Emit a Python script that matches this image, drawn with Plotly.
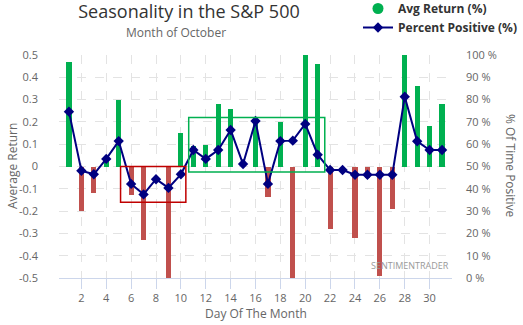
import plotly.graph_objects as go

# Day of month (October) and the per-day statistics
days = list(range(1, 32))
avg_return = [0.47, -0.20, -0.12, 0.03, 0.30, -0.13, -0.33, 0.0, -0.50, 0.15,
              0.09, 0.095, 0.28, 0.26, 0.0, 0.21, -0.135, 0.20, -0.50, 0.50,
              0.46, -0.28, 0.0, -0.32, -0.05, -0.49, -0.19, 0.50, 0.36, 0.18, 0.28]
pct_positive = [74.6, 48.1, 46.5, 53.4, 61.4, 42.2, 37.5, 44.3, 40.4, 46.5,
                57.4, 53.4, 57.4, 66.4, 51.1, 70.4, 42.2, 61.4, 61.6, 69.1,
                55.3, 48.4, 48.4, 46.3, 46.3, 46.3, 46.3, 81.3, 61.3, 57.4, 57.4]

x_ticks = list(range(2, 31, 2))
left_ticks = [0.5, 0.4, 0.3, 0.2, 0.1, 0, -0.1, -0.2, -0.3, -0.4, -0.5]
left_labels = ["0.5", "0.4", "0.3", "0.2", "0.1", "0", "-0.1", "-0.2", "-0.3", "-0.4", "-0.5"]
right_ticks = list(range(0, 101, 10))
right_labels = [f"{v} %" for v in right_ticks]

GREEN = "#00B050"
RED = "#C0504D"
NAVY = "#000080"
GRID = "#e3e3e3"
AXIS = "#ccd6eb"
LABEL = "#666666"
FONT = "Open Sans"

bar_colors = [GREEN if v >= 0 else RED for v in avg_return]

fig = go.Figure()

fig.add_trace(go.Bar(
    x=days, y=avg_return, width=0.42,
    marker=dict(color=bar_colors, line=dict(width=0)),
    showlegend=False, yaxis="y",
))

# legend entry for the bars (circle symbol)
fig.add_trace(go.Scatter(
    x=[None], y=[None], mode="markers", name="Avg Return (%)",
    marker=dict(color=GREEN, size=11, symbol="circle"),
))

fig.add_trace(go.Scatter(
    x=days, y=pct_positive, mode="lines+markers", name="Percent Positive (%)",
    line=dict(color=NAVY, width=2),
    marker=dict(color=NAVY, size=8, symbol="diamond"),
    yaxis="y2",
))

# highlight boxes
fig.add_shape(type="rect", xref="x", yref="y", x0=5.15, x1=10.4, y0=-0.16, y1=0.0,
              line=dict(color="#C00000", width=1.5), fillcolor="rgba(0,0,0,0)", layer="above")
fig.add_shape(type="rect", xref="x", yref="y", x0=10.63, x1=21.57, y0=-0.025, y1=0.22,
              line=dict(color="#00B050", width=1.5), fillcolor="rgba(0,0,0,0)", layer="above")

W, H = 523, 325
ML, MR, MT, MB = 59, 71, 55, 47
pw = W - ML - MR
ph = H - MT - MB


def px(x):
    return (x - ML) / pw


def py(y):
    return (H - MB - y) / ph


def label(text, x, y, size=12, color=LABEL, angle=0, xanchor="center"):
    return dict(text=text, x=px(x), y=py(y), xref="paper", yref="paper",
                xanchor=xanchor, yanchor="middle", showarrow=False, textangle=angle,
                font=dict(family=FONT, size=size, color=color))


annotations = [
    label("Month of October", 176, 33),
    label("Average Return", 12, 166, angle=-90),
    label("% Of Time Positive", 511, 166, angle=90),
    label("Day Of The Month", 256, 313),
    label("SENTIMENTRADER", 451, 265, size=9, color="#999999", xanchor="right"),
]

fig.update_layout(
    width=W, height=H,
    margin=dict(l=ML, r=MR, t=MT, b=MB, autoexpand=False),
    paper_bgcolor="white", plot_bgcolor="white",
    font=dict(family=FONT, color=LABEL),
    title=dict(text="Seasonality in the S&P 500", x=189 / W, xanchor="center",
               y=1 - 12 / H, yanchor="middle", xref="container", yref="container",
               font=dict(family=FONT, size=18, color="#333333")),
    bargap=0,
    showlegend=True,
    legend=dict(xref="paper", yref="paper", x=px(358), y=py(-6),
                xanchor="left", yanchor="top", bgcolor="rgba(0,0,0,0)",
                font=dict(family=FONT, size=12, color="#333333", weight="bold"),
                tracegroupgap=0, itemwidth=30),
    annotations=annotations,
    xaxis=dict(range=[0.2, 31.8], tickvals=x_ticks, showgrid=True, gridcolor=GRID,
               griddash="dash", gridwidth=1, zeroline=False, showline=True,
               linecolor=AXIS, linewidth=1, ticks="outside", ticklen=10,
               tickcolor=AXIS, tickfont=dict(family=FONT, size=11, color=LABEL)),
    yaxis=dict(range=[-0.5, 0.5], tickvals=left_ticks, ticktext=left_labels,
               showgrid=True, gridcolor=GRID, griddash="dash", gridwidth=1,
               zeroline=False, showline=False, ticks="", ticklabelstandoff=20,
               tickfont=dict(family=FONT, size=11, color=LABEL)),
    yaxis2=dict(range=[0, 100], tickvals=right_ticks, ticktext=right_labels,
                overlaying="y", side="right", showgrid=False, zeroline=False,
                showline=False, ticks="", ticklabelstandoff=13,
                tickfont=dict(family=FONT, size=11, color=LABEL)),
)

fig.write_html("out.html")
